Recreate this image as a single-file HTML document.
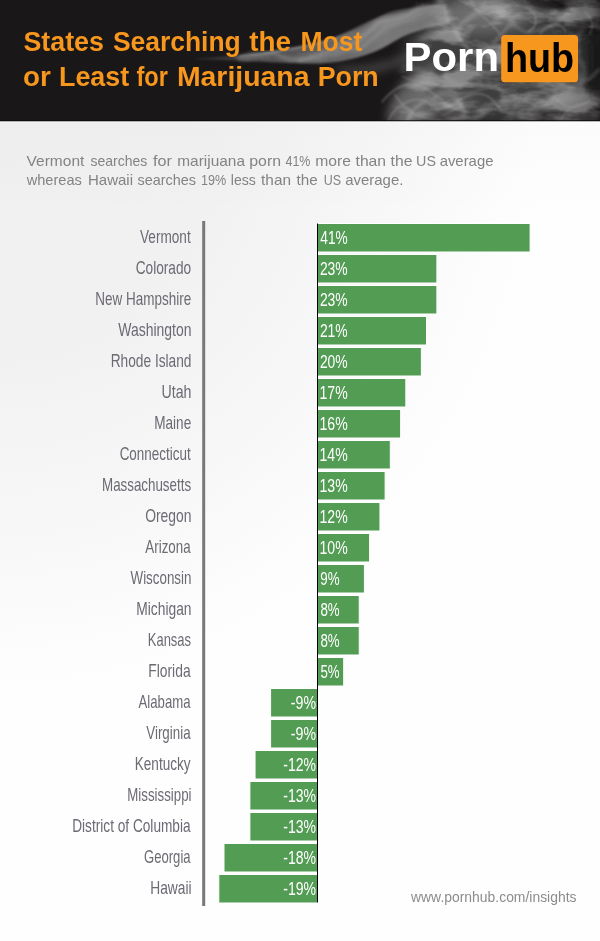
<!DOCTYPE html>
<html lang="en"><head><meta charset="utf-8"><title>States Searching the Most or Least for Marijuana Porn</title>
<style>
html,body{margin:0;padding:0;background:#ffffff;}
body{width:600px;height:941px;overflow:hidden;font-family:"Liberation Sans",sans-serif;}
svg{display:block}
.lab{font-family:"Liberation Sans",sans-serif;font-size:17.8px;fill:#6d6a73;}
.val{font-family:"Liberation Sans",sans-serif;font-size:18px;fill:#ffffff;}
.ttl{font-family:"Liberation Sans",sans-serif;font-weight:bold;font-size:27px;fill:#f7971d;}
.sub{font-family:"Liberation Sans",sans-serif;font-size:15px;fill:#838383;}
.url{font-family:"Liberation Sans",sans-serif;font-size:14.5px;fill:#8c8c8c;}
</style></head><body>
<svg width="600" height="941" viewBox="0 0 600 941">
<defs>
<radialGradient id="bg" gradientUnits="userSpaceOnUse" cx="0" cy="0" r="1" gradientTransform="translate(0,121) scale(540,570)">
<stop offset="0" stop-color="#f0f0f0"/><stop offset="0.4" stop-color="#f1f1f1"/><stop offset="0.75" stop-color="#f8f8f8"/><stop offset="1" stop-color="#fefefe"/>
</radialGradient>
<linearGradient id="tb" x1="0" y1="0" x2="0" y2="1"><stop offset="0" stop-color="#000" stop-opacity="0.012"/><stop offset="1" stop-color="#000" stop-opacity="0"/></linearGradient>
<linearGradient id="rb" x1="0" y1="0" x2="1" y2="0"><stop offset="0" stop-color="#000" stop-opacity="0"/><stop offset="1" stop-color="#000" stop-opacity="0.015"/></linearGradient>
<filter id="b8" x="-30%" y="-30%" width="160%" height="160%"><feGaussianBlur stdDeviation="8"/></filter>
<filter id="b4" x="-30%" y="-30%" width="160%" height="160%"><feGaussianBlur stdDeviation="4"/></filter>
<filter id="b1" x="-10%" y="-30%" width="120%" height="160%"><feGaussianBlur stdDeviation="1.1"/></filter>
<linearGradient id="wg" gradientUnits="userSpaceOnUse" x1="195" y1="0" x2="450" y2="0"><stop offset="0" stop-color="#8a8a8a" stop-opacity="0.15"/><stop offset="0.35" stop-color="#8e8e8e" stop-opacity="0.5"/><stop offset="0.75" stop-color="#a0a0a0" stop-opacity="0.72"/><stop offset="1" stop-color="#999" stop-opacity="0.6"/></linearGradient>
<filter id="b2" x="-30%" y="-30%" width="160%" height="160%"><feGaussianBlur stdDeviation="2"/></filter>
<filter id="sm" x="-10%" y="-10%" width="120%" height="120%"><feTurbulence type="fractalNoise" baseFrequency="0.03 0.045" numOctaves="2" seed="4" result="n"/><feDisplacementMap in="SourceGraphic" in2="n" scale="14" xChannelSelector="R" yChannelSelector="G"/></filter>
<filter id="tx" x="0" y="0" width="100%" height="100%" filterUnits="objectBoundingBox"><feGaussianBlur in="SourceGraphic" stdDeviation="7" result="m"/><feTurbulence type="fractalNoise" baseFrequency="0.02 0.045" numOctaves="4" seed="11" result="n"/><feColorMatrix in="n" type="matrix" values="0 0 0 0 0.72  0 0 0 0 0.72  0 0 0 0 0.72  4.2 0 0 0 -1.8" result="w"/><feComposite in="w" in2="m" operator="in"/></filter>
<clipPath id="hc"><rect x="0" y="0" width="600" height="121"/></clipPath>
</defs>
<rect x="0" y="0" width="600" height="941" fill="url(#bg)"/>
<rect x="0" y="121" width="600" height="100" fill="url(#tb)"/>
<rect x="0" y="0" width="600" height="121.3" fill="#1a1718"/>
<g clip-path="url(#hc)" id="smoke">
<g filter="url(#b8)">
<ellipse cx="494" cy="60" rx="90" ry="62" fill="#505050" opacity="0.7"/>
<ellipse cx="482" cy="12" rx="46" ry="20" fill="#8a8a8a" opacity="0.62"/>
<ellipse cx="434" cy="104" rx="40" ry="18" fill="#7c7c7c" opacity="0.5"/>
<ellipse cx="548" cy="106" rx="36" ry="14" fill="#606060" opacity="0.35"/>
<ellipse cx="575" cy="12" rx="30" ry="16" fill="#1a1718" opacity="0.55"/>
<ellipse cx="598" cy="62" rx="18" ry="34" fill="#1a1718" opacity="0.85"/>
<ellipse cx="408" cy="26" rx="16" ry="10" fill="#1a1718" opacity="0.5"/>
</g>
<g filter="url(#b1)">
<path d="M195 58.5 C230 57 265 52 300 46 C330 41 350 34 370 23 C385 14 400 11 445 5 L450 24 C425 27 405 34 390 44 C370 56 345 62 320 63.5 C290 64 240 60 195 59.5Z" fill="url(#wg)"/>
<path d="M240 56 C275 53 310 46 335 38 C355 31 372 19 392 12.5 C405 9 420 8 440 5" fill="none" stroke="#c8c8c8" stroke-width="1.6" opacity="0.45"/>
</g>
<g filter="url(#b4)">
<path d="M330 66 C370 70 400 56 430 48 C410 62 380 78 345 74Z" fill="#777" opacity="0.4"/>
<path d="M385 121 C392 92 410 72 440 62 C430 80 425 100 430 121Z" fill="#8a8a8a" opacity="0.5"/>
</g>
<g filter="url(#sm)">
<g filter="url(#b2)" fill="none" stroke-linecap="round">
<path d="M235 57 C280 60 325 56 352 42 C378 28 398 12 440 4" stroke="#bdbdbd" stroke-width="3" opacity="0.55"/>
<path d="M300 58 C340 58 362 48 385 32 C402 20 420 12 450 10" stroke="#a8a8a8" stroke-width="5" opacity="0.4"/>
<path d="M440 0 C455 20 450 40 470 50 C490 58 500 30 520 20 C540 10 560 20 575 8" stroke="#c4c4c4" stroke-width="3" opacity="0.4"/>
<path d="M410 121 C420 95 445 85 460 100 C470 110 460 121 450 121" stroke="#cacaca" stroke-width="3" opacity="0.45"/>
<path d="M470 121 C490 95 520 110 540 95 C560 80 585 90 598 70" stroke="#bcbcbc" stroke-width="3" opacity="0.35"/>
<path d="M455 30 C470 10 500 5 515 25 C525 38 560 30 570 10" stroke="#cccccc" stroke-width="2.5" opacity="0.35"/>
<path d="M580 30 C570 50 590 70 580 95" stroke="#aaaaaa" stroke-width="3" opacity="0.3"/>
<path d="M420 40 C440 20 470 30 480 10 C488 -4 510 0 520 10" stroke="#d0d0d0" stroke-width="2" opacity="0.35"/>
<path d="M400 70 C420 60 440 90 470 84 C500 78 505 100 530 104 C560 108 570 88 598 100" stroke="#c0c0c0" stroke-width="2.5" opacity="0.3"/>
<path d="M520 0 C530 14 550 6 560 18 C572 32 590 20 600 28" stroke="#c8c8c8" stroke-width="2" opacity="0.35"/>
</g>
</g>
<g filter="url(#tx)" opacity="0.45">
<rect x="380" y="-20" width="240" height="160" fill="#fff" opacity="0"/>
<path d="M432 0 L600 0 L600 30 L575 40 L580 90 L600 95 L600 121 L395 121 L400 95 L425 70 L410 55 L435 30Z" fill="#fff"/>
</g>
<g id="rib" filter="url(#b1)" fill="none" stroke="#b4b4b4" stroke-linecap="round">
<path d="M382 102 C395 86 410 80 425 88 C440 96 445 110 470 112" stroke-width="1.6" opacity="0.4"/>
<path d="M388 121 C398 100 420 94 430 105 C440 116 455 100 470 95 C485 90 495 100 502 112" stroke-width="1.4" opacity="0.4"/>
<path d="M402 76 C420 86 435 80 450 90 C465 100 480 85 500 88" stroke-width="1.3" opacity="0.35"/>
<path d="M395 95 C405 110 418 118 440 121" stroke-width="1.8" opacity="0.35"/>
<path d="M500 4 C512 10 520 2 530 10 C540 18 536 28 528 32" stroke-width="1.5" opacity="0.45"/>
<path d="M540 34 C548 22 562 22 566 32" stroke-width="1.3" opacity="0.4"/>
<path d="M585 12 C592 18 594 26 590 34" stroke-width="1.2" opacity="0.35"/>
<path d="M470 0 C476 14 490 20 500 34" stroke-width="1.6" opacity="0.35"/>
<path d="M520 96 C535 88 550 92 560 102 C568 110 580 108 590 100" stroke-width="1.4" opacity="0.35"/>
<path d="M560 121 C566 108 580 100 598 104" stroke-width="1.4" opacity="0.3"/>
</g>

</g>
<rect x="0" y="120.3" width="600" height="1" fill="#080808"/>
<rect x="0" y="121.3" width="600" height="1" fill="#ffffff" opacity="0.6"/>
<text class="ttl" x="23.43" y="51" textLength="80.47" lengthAdjust="spacingAndGlyphs">States</text>
<text class="ttl" x="112.94" y="51" textLength="127.83" lengthAdjust="spacingAndGlyphs">Searching</text>
<text class="ttl" x="249.16" y="51" textLength="41.79" lengthAdjust="spacingAndGlyphs">the</text>
<text class="ttl" x="300.43" y="51" textLength="61.90" lengthAdjust="spacingAndGlyphs">Most</text>
<text class="ttl" x="23.11" y="86" textLength="27.81" lengthAdjust="spacingAndGlyphs">or</text>
<text class="ttl" x="59.00" y="86" textLength="70.12" lengthAdjust="spacingAndGlyphs">Least</text>
<text class="ttl" x="136.40" y="86" textLength="31.46" lengthAdjust="spacingAndGlyphs">for</text>
<text class="ttl" x="176.90" y="86" textLength="132.62" lengthAdjust="spacingAndGlyphs">Marijuana</text>
<text class="ttl" x="317.71" y="86" textLength="60.95" lengthAdjust="spacingAndGlyphs">Porn</text>
<text x="403.6" y="71" textLength="95.4" lengthAdjust="spacingAndGlyphs" style="font-family:'Liberation Sans',sans-serif;font-weight:bold;font-size:41px;fill:#ffffff">Porn</text>
<rect x="501.2" y="35" width="76.8" height="47.3" rx="3.5" fill="#f7971d"/>
<text x="504.9" y="71.5" textLength="69.2" lengthAdjust="spacingAndGlyphs" style="font-family:'Liberation Sans',sans-serif;font-weight:bold;font-size:40px;fill:#000000">hub</text>
<text class="sub" x="26.63" y="166.2" textLength="57.68" lengthAdjust="spacingAndGlyphs">Vermont</text>
<text class="sub" x="90.41" y="166.2" textLength="56.80" lengthAdjust="spacingAndGlyphs">searches</text>
<text class="sub" x="153.07" y="166.2" textLength="18.90" lengthAdjust="spacingAndGlyphs">for</text>
<text class="sub" x="177.28" y="166.2" textLength="67.72" lengthAdjust="spacingAndGlyphs">marijuana</text>
<text class="sub" x="249.28" y="166.2" textLength="31.75" lengthAdjust="spacingAndGlyphs">porn</text>
<text class="sub" x="285.51" y="166.2" textLength="24.93" lengthAdjust="spacingAndGlyphs">41%</text>
<text class="sub" x="315.26" y="166.2" textLength="35.74" lengthAdjust="spacingAndGlyphs">more</text>
<text class="sub" x="355.56" y="166.2" textLength="30.45" lengthAdjust="spacingAndGlyphs">than</text>
<text class="sub" x="390.56" y="166.2" textLength="21.84" lengthAdjust="spacingAndGlyphs">the</text>
<text class="sub" x="416.10" y="166.2" textLength="19.86" lengthAdjust="spacingAndGlyphs">US</text>
<text class="sub" x="439.67" y="166.2" textLength="53.79" lengthAdjust="spacingAndGlyphs">average</text>
<text class="sub" x="26.72" y="184.8" textLength="55.11" lengthAdjust="spacingAndGlyphs">whereas</text>
<text class="sub" x="87.97" y="184.8" textLength="45.04" lengthAdjust="spacingAndGlyphs">Hawaii</text>
<text class="sub" x="137.60" y="184.8" textLength="58.42" lengthAdjust="spacingAndGlyphs">searches</text>
<text class="sub" x="201.04" y="184.8" textLength="25.21" lengthAdjust="spacingAndGlyphs">19%</text>
<text class="sub" x="230.75" y="184.8" textLength="25.06" lengthAdjust="spacingAndGlyphs">less</text>
<text class="sub" x="261.07" y="184.8" textLength="29.93" lengthAdjust="spacingAndGlyphs">than</text>
<text class="sub" x="296.47" y="184.8" textLength="21.21" lengthAdjust="spacingAndGlyphs">the</text>
<text class="sub" x="323.74" y="184.8" textLength="17.34" lengthAdjust="spacingAndGlyphs">US</text>
<text class="sub" x="345.16" y="184.8" textLength="58.20" lengthAdjust="spacingAndGlyphs">average.</text>
<rect x="202.2" y="221" width="3" height="685" fill="#787878"/>

<rect x="317.50" y="223.5" width="212.61" height="28.5" fill="#539c54" stroke="#ffffff" stroke-width="1"/>
<text class="lab" x="140.04" y="243.4" textLength="50.66" lengthAdjust="spacingAndGlyphs">Vermont</text>
<text class="val" x="320.29" y="243.7" textLength="27.40" lengthAdjust="spacingAndGlyphs">41%</text>
<rect x="317.50" y="254.5" width="119.40" height="28.5" fill="#539c54" stroke="#ffffff" stroke-width="1"/>
<text class="lab" x="135.66" y="274.4" textLength="55.52" lengthAdjust="spacingAndGlyphs">Colorado</text>
<text class="val" x="319.90" y="274.7" textLength="27.79" lengthAdjust="spacingAndGlyphs">23%</text>
<rect x="317.50" y="285.5" width="119.40" height="28.5" fill="#539c54" stroke="#ffffff" stroke-width="1"/>
<text class="lab" x="95.24" y="305.4" textLength="95.96" lengthAdjust="spacingAndGlyphs">New Hampshire</text>
<text class="val" x="319.90" y="305.7" textLength="27.79" lengthAdjust="spacingAndGlyphs">23%</text>
<rect x="317.50" y="316.5" width="109.05" height="28.5" fill="#539c54" stroke="#ffffff" stroke-width="1"/>
<text class="lab" x="118.29" y="336.4" textLength="73.21" lengthAdjust="spacingAndGlyphs">Washington</text>
<text class="val" x="319.90" y="336.7" textLength="27.79" lengthAdjust="spacingAndGlyphs">21%</text>
<rect x="317.50" y="347.5" width="103.87" height="28.5" fill="#539c54" stroke="#ffffff" stroke-width="1"/>
<text class="lab" x="110.73" y="367.4" textLength="80.76" lengthAdjust="spacingAndGlyphs">Rhode Island</text>
<text class="val" x="319.90" y="367.7" textLength="27.79" lengthAdjust="spacingAndGlyphs">20%</text>
<rect x="317.50" y="378.5" width="88.34" height="28.5" fill="#539c54" stroke="#ffffff" stroke-width="1"/>
<text class="lab" x="161.50" y="398.4" textLength="30.02" lengthAdjust="spacingAndGlyphs">Utah</text>
<text class="val" x="319.53" y="398.7" textLength="28.17" lengthAdjust="spacingAndGlyphs">17%</text>
<rect x="317.50" y="409.5" width="83.16" height="28.5" fill="#539c54" stroke="#ffffff" stroke-width="1"/>
<text class="lab" x="154.24" y="429.4" textLength="36.97" lengthAdjust="spacingAndGlyphs">Maine</text>
<text class="val" x="319.53" y="429.7" textLength="28.17" lengthAdjust="spacingAndGlyphs">16%</text>
<rect x="317.50" y="440.5" width="72.80" height="28.5" fill="#539c54" stroke="#ffffff" stroke-width="1"/>
<text class="lab" x="119.67" y="460.4" textLength="71.03" lengthAdjust="spacingAndGlyphs">Connecticut</text>
<text class="val" x="319.53" y="460.7" textLength="28.17" lengthAdjust="spacingAndGlyphs">14%</text>
<rect x="317.50" y="471.5" width="67.62" height="28.5" fill="#539c54" stroke="#ffffff" stroke-width="1"/>
<text class="lab" x="102.00" y="491.4" textLength="89.08" lengthAdjust="spacingAndGlyphs">Massachusetts</text>
<text class="val" x="319.53" y="491.7" textLength="28.17" lengthAdjust="spacingAndGlyphs">13%</text>
<rect x="317.50" y="502.5" width="62.45" height="28.5" fill="#539c54" stroke="#ffffff" stroke-width="1"/>
<text class="lab" x="145.19" y="522.4" textLength="46.31" lengthAdjust="spacingAndGlyphs">Oregon</text>
<text class="val" x="319.53" y="522.7" textLength="28.17" lengthAdjust="spacingAndGlyphs">12%</text>
<rect x="317.50" y="533.5" width="52.09" height="28.5" fill="#539c54" stroke="#ffffff" stroke-width="1"/>
<text class="lab" x="145.32" y="553.4" textLength="45.28" lengthAdjust="spacingAndGlyphs">Arizona</text>
<text class="val" x="319.53" y="553.7" textLength="28.17" lengthAdjust="spacingAndGlyphs">10%</text>
<rect x="317.50" y="564.5" width="46.91" height="28.5" fill="#539c54" stroke="#ffffff" stroke-width="1"/>
<text class="lab" x="130.54" y="584.4" textLength="60.93" lengthAdjust="spacingAndGlyphs">Wisconsin</text>
<text class="val" x="320.37" y="584.7" textLength="19.30" lengthAdjust="spacingAndGlyphs">9%</text>
<rect x="317.50" y="595.5" width="41.73" height="28.5" fill="#539c54" stroke="#ffffff" stroke-width="1"/>
<text class="lab" x="136.22" y="615.4" textLength="55.28" lengthAdjust="spacingAndGlyphs">Michigan</text>
<text class="val" x="320.42" y="615.7" textLength="19.25" lengthAdjust="spacingAndGlyphs">8%</text>
<rect x="317.50" y="626.5" width="41.73" height="28.5" fill="#539c54" stroke="#ffffff" stroke-width="1"/>
<text class="lab" x="147.79" y="646.4" textLength="43.28" lengthAdjust="spacingAndGlyphs">Kansas</text>
<text class="val" x="320.42" y="646.7" textLength="19.25" lengthAdjust="spacingAndGlyphs">8%</text>
<rect x="317.50" y="657.5" width="26.20" height="28.5" fill="#539c54" stroke="#ffffff" stroke-width="1"/>
<text class="lab" x="148.21" y="677.4" textLength="42.39" lengthAdjust="spacingAndGlyphs">Florida</text>
<text class="val" x="320.47" y="677.7" textLength="19.21" lengthAdjust="spacingAndGlyphs">5%</text>
<rect x="270.59" y="688.5" width="46.91" height="28.5" fill="#539c54" stroke="#ffffff" stroke-width="1"/>
<text class="lab" x="138.57" y="708.4" textLength="52.03" lengthAdjust="spacingAndGlyphs">Alabama</text>
<text class="val" x="290.87" y="708.7" textLength="25.24" lengthAdjust="spacingAndGlyphs">-9%</text>
<rect x="270.59" y="719.5" width="46.91" height="28.5" fill="#539c54" stroke="#ffffff" stroke-width="1"/>
<text class="lab" x="146.29" y="739.4" textLength="44.31" lengthAdjust="spacingAndGlyphs">Virginia</text>
<text class="val" x="290.87" y="739.7" textLength="25.24" lengthAdjust="spacingAndGlyphs">-9%</text>
<rect x="255.05" y="750.5" width="62.45" height="28.5" fill="#539c54" stroke="#ffffff" stroke-width="1"/>
<text class="lab" x="134.74" y="770.4" textLength="55.89" lengthAdjust="spacingAndGlyphs">Kentucky</text>
<text class="val" x="283.28" y="770.7" textLength="32.83" lengthAdjust="spacingAndGlyphs">-12%</text>
<rect x="249.88" y="781.5" width="67.62" height="28.5" fill="#539c54" stroke="#ffffff" stroke-width="1"/>
<text class="lab" x="127.26" y="801.4" textLength="64.24" lengthAdjust="spacingAndGlyphs">Mississippi</text>
<text class="val" x="283.28" y="801.7" textLength="32.83" lengthAdjust="spacingAndGlyphs">-13%</text>
<rect x="249.88" y="812.5" width="67.62" height="28.5" fill="#539c54" stroke="#ffffff" stroke-width="1"/>
<text class="lab" x="72.23" y="832.4" textLength="118.37" lengthAdjust="spacingAndGlyphs">District of Columbia</text>
<text class="val" x="283.28" y="832.7" textLength="32.83" lengthAdjust="spacingAndGlyphs">-13%</text>
<rect x="223.99" y="843.5" width="93.51" height="28.5" fill="#539c54" stroke="#ffffff" stroke-width="1"/>
<text class="lab" x="143.94" y="863.4" textLength="46.66" lengthAdjust="spacingAndGlyphs">Georgia</text>
<text class="val" x="283.28" y="863.7" textLength="32.83" lengthAdjust="spacingAndGlyphs">-18%</text>
<rect x="218.81" y="874.5" width="98.69" height="28.5" fill="#539c54" stroke="#ffffff" stroke-width="1"/>
<text class="lab" x="150.22" y="894.4" textLength="41.31" lengthAdjust="spacingAndGlyphs">Hawaii</text>
<text class="val" x="283.28" y="894.7" textLength="32.83" lengthAdjust="spacingAndGlyphs">-19%</text>
<rect x="317" y="223.5" width="1" height="679" fill="#000000"/>
<text class="url" x="411.02" y="902" textLength="165.48" lengthAdjust="spacingAndGlyphs">www.pornhub.com/insights</text>
</svg></body></html>
